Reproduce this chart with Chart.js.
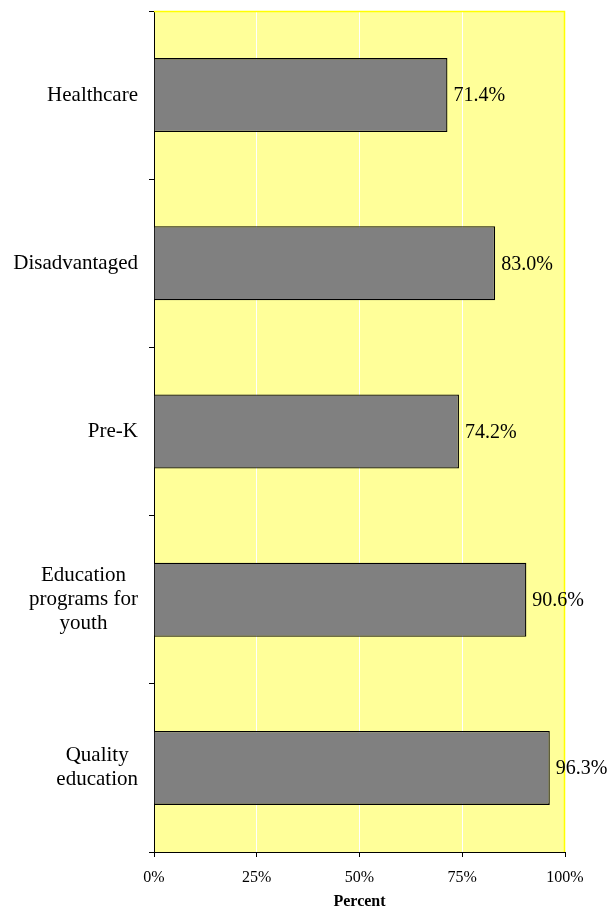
<!DOCTYPE html>
<html>
<head>
<meta charset="utf-8">
<script src="https://cdn.jsdelivr.net/npm/chart.js@4/dist/chart.umd.min.js"></script>
<style>
  html, body { margin: 0; padding: 0; background: #fff; }
  canvas { display: block; }
</style>
</head>
<body>
<canvas id="chart" width="608" height="911"></canvas>
<script>
// categories (multi-line labels as arrays of lines)
const categories = [
    ['Healthcare'],
    ['Disadvantaged'],
    ['Pre-K'],
    ['Education', 'programs for', 'youth'],
    ['Quality', 'education']
];
const values = [71.4, 83.0, 74.2, 90.6, 96.3];
const xTicks = [0, 25, 50, 75, 100];

const SERIF = "'Liberation Serif', 'Times New Roman', serif";

/* ─── plot background + yellow frame ─── */
const plotArea = {
    id: 'plotArea',
    beforeDraw(chart) {
        const { ctx, chartArea: a } = chart;
        ctx.save();
        ctx.fillStyle = '#FFFF99';
        ctx.fillRect(a.left, a.top, a.right - a.left, a.bottom - a.top);
        ctx.restore();
    },
    beforeDatasetsDraw(chart) {
        const { ctx, chartArea: a } = chart;
        ctx.save();
        ctx.strokeStyle = '#FFFF00';
        ctx.lineWidth = 1.5;
        ctx.beginPath();
        ctx.moveTo(a.left, a.top + 0.5);
        ctx.lineTo(a.right - 0.5, a.top + 0.5);
        ctx.lineTo(a.right - 0.5, a.bottom);
        ctx.stroke();
        ctx.restore();
    }
};

/* ─── category labels + value labels ─── */
const labelsPlugin = {
    id: 'labelsPlugin',
    afterDraw(chart) {
        const { ctx } = chart;
        const y = chart.scales.y;
        const meta = chart.getDatasetMeta(0);
        ctx.save();
        ctx.fillStyle = '#000';
        ctx.textBaseline = 'middle';

        ctx.font = '21px ' + SERIF;
        categories.forEach((lines, i) => {
            const cy = y.getPixelForValue(i);
            const lh = 24;
            const blockW = Math.max(...lines.map(l => ctx.measureText(l).width));
            const center = 138 - blockW / 2;
            const y0 = cy - (lines.length - 1) * lh / 2;
            ctx.textAlign = 'center';
            lines.forEach((l, k) => ctx.fillText(l, center, y0 + k * lh));
        });

        ctx.font = '20px ' + SERIF;
        ctx.textAlign = 'left';
        meta.data.forEach((bar, i) => {
            ctx.fillText(values[i].toFixed(1) + '%', bar.x + 6, bar.y + 1);
        });
        ctx.restore();
    }
};

new Chart(document.getElementById('chart'), {
    type: 'bar',
    data: {
        labels: categories.map(c => c.join(' ')),
        datasets: [{
            data: values,
            backgroundColor: '#808080',
            borderColor: '#000',
            borderWidth: 1.3,
            categoryPercentage: 1,
            barPercentage: 0.44
        }]
    },
    options: {
        indexAxis: 'y',
        responsive: false,
        animation: false,
        layout: { padding: { top: 11, right: 43, left: 0, bottom: 0 } },
        plugins: {
            legend: { display: false },
            tooltip: { enabled: false }
        },
        scales: {
            x: {
                min: 0,
                max: 100,
                afterBuildTicks(scale) {
                    scale.ticks = xTicks.map(v => ({ value: v }));
                },
                afterFit(scale) { scale.height = 59; },
                ticks: {
                    color: '#000',
                    font: { family: SERIF, size: 16 },
                    padding: 11,
                    maxRotation: 0,
                    callback: v => v + '%'
                },
                grid: {
                    color: '#FFFFFF',
                    tickColor: '#000',
                    tickLength: 5,
                    lineWidth: 1
                },
                border: { color: '#000', width: 1 },
                title: {
                    display: true,
                    text: 'Percent',
                    color: '#000',
                    font: { family: SERIF, size: 16, weight: 'bold' },
                    padding: { top: 4, bottom: 0 }
                }
            },
            y: {
                afterFit(scale) { scale.width = 154; },
                ticks: { display: false },
                grid: {
                    offset: true,
                    drawOnChartArea: false,
                    tickColor: '#000',
                    tickLength: 5
                },
                border: { color: '#000', width: 1 }
            }
        }
    },
    plugins: [plotArea, labelsPlugin]
});
</script>
</body>
</html>
